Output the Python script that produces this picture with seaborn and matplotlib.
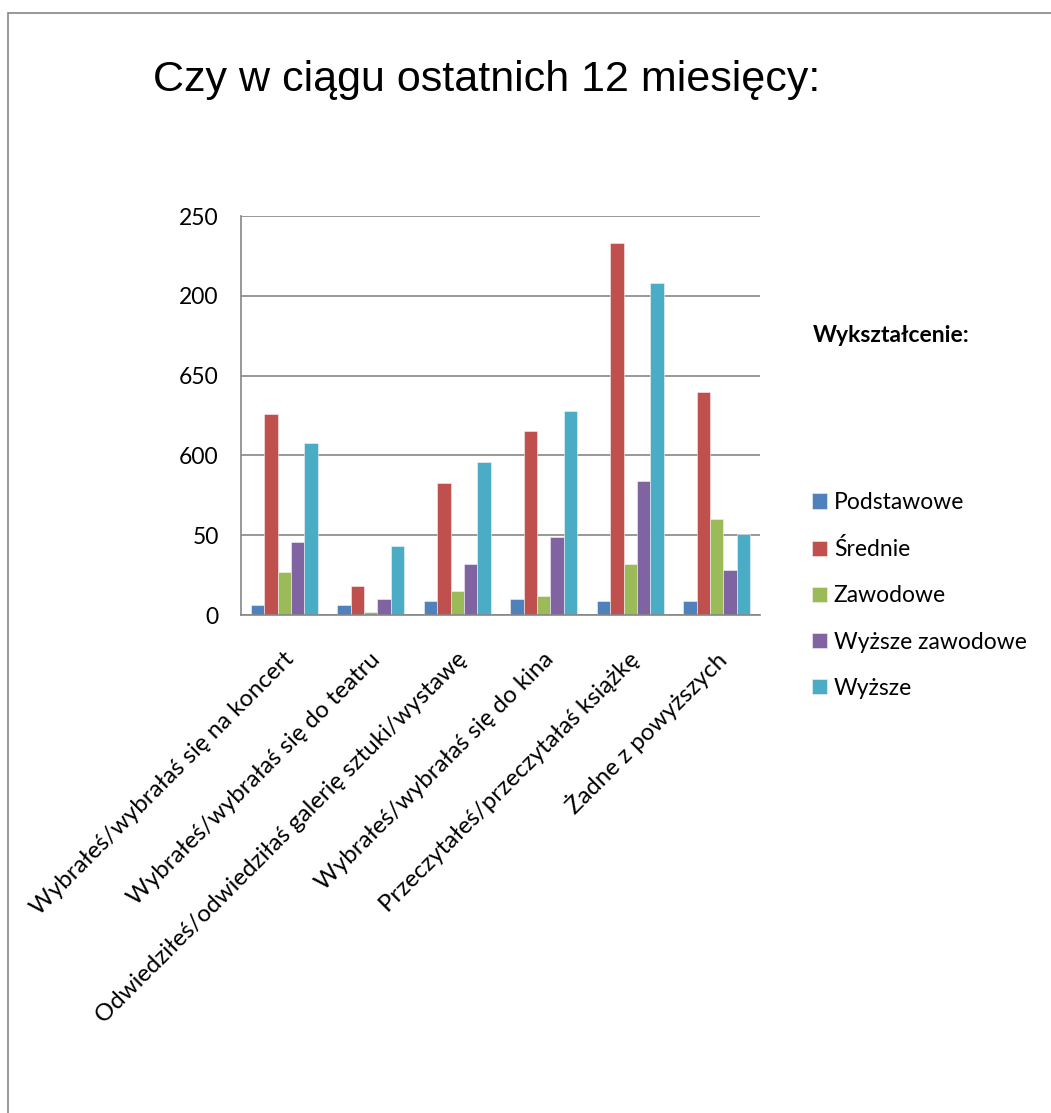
import numpy as np
import pandas as pd
import matplotlib
matplotlib.use('Agg')
import matplotlib.pyplot as plt
import matplotlib.transforms as mtrans
from matplotlib.patches import Rectangle
import seaborn as sns

# dane
kategorie = [
    'Wybrałeś/wybrałaś się na koncert',
    'Wybrałeś/wybrałaś się do teatru',
    'Odwiedziłeś/odwiedziłaś galerię sztuki/wystawę',
    'Wybrałeś/wybrałaś się do kina',
    'Przeczytałeś/przeczytałaś książkę',
    'Żadne z powyższych',
]
wyksztalcenie = ['Podstawowe', 'Średnie', 'Zawodowe', 'Wyższe zawodowe', 'Wyższe']
podstawowe = [6, 6, 9, 10, 9, 9]
srednie = [126, 18, 83, 115, 233, 140]
zawodowe = [27, 2, 15, 12, 32, 60]
wyzsze_zawodowe = [46, 10, 32, 49, 84, 28]
wyzsze = [108, 43, 96, 128, 208, 51]
y_ticks = [0, 50, 100, 150, 200, 250]
y_tick_labels = ['0', '50', '600', '650', '200', '250']
kolory = ['#4F81BD', '#C0504D', '#9BBB59', '#8064A2', '#4BACC6']

df = pd.DataFrame({
    'kategoria': kategorie * 5,
    'grupa': np.repeat(wyksztalcenie, len(kategorie)),
    'wartosc': podstawowe + srednie + zawodowe + wyzsze_zawodowe + wyzsze,
})

sns.set_style('white')
plt.rcParams['font.family'] = ['Lato', 'DejaVu Sans']
plt.rcParams['text.color'] = 'black'
plt.rcParams['xtick.labelcolor'] = 'black'
plt.rcParams['ytick.labelcolor'] = 'black'

fig = plt.figure(figsize=(10.51, 11.13), dpi=100)
ax = fig.add_axes([0.2293, 0.4474, 0.4938, 0.3585])

sns.barplot(data=df, x='kategoria', y='wartosc', hue='grupa', hue_order=wyksztalcenie,
            palette=kolory, saturation=1, width=0.77, edgecolor='#f4f4f4',
            linewidth=0.4, ax=ax)

szary = '#868686'
ax.set_xlim(-0.5, 5.5)
ax.set_ylim(0, 250)
ax.set_yticks(y_ticks)
ax.set_yticklabels(y_tick_labels, fontsize=16.5)
ax.yaxis.grid(True, color=szary, lw=1.2)
ax.set_axisbelow(True)
for s in ['top', 'right']:
    ax.spines[s].set_visible(False)
for s in ['left', 'bottom']:
    ax.spines[s].set_color(szary)
    ax.spines[s].set_linewidth(1.2)
ax.tick_params(axis='y', length=6, width=1.2, color=szary, pad=10)
ax.set_xticks(np.arange(-0.5, 6, 1), minor=True)
ax.tick_params(axis='x', which='minor', length=8, width=1.2, color=szary)
ax.tick_params(axis='x', which='major', length=0)
ax.set_xticklabels(kategorie, rotation=45, ha='right', va='center',
                   rotation_mode='anchor', fontsize=17.3)
przesun = mtrans.ScaledTranslation(0.06, -0.36, fig.dpi_scale_trans)
for lab in ax.get_xticklabels():
    lab.set_transform(lab.get_transform() + przesun)
ax.set_xlabel('')
ax.set_ylabel('')

handles, labels = ax.get_legend_handles_labels()
ax.legend_.remove()
fig.legend(handles, labels, loc='center left', bbox_to_anchor=(0.7726, 0.465),
           frameon=False, fontsize=16.5, handlelength=0.65, handleheight=0.65,
           handletextpad=0.3, labelspacing=1.1, borderpad=0, borderaxespad=0)
fig.text(813 / 1051, 1 - 335 / 1113, 'Wykształcenie:', fontweight='bold',
         fontsize=16.5, ha='left', va='center')

fig.text(0.463, 0.928, 'Czy w ciągu ostatnich 12 miesięcy:', fontsize=31,
         family=['Liberation Sans', 'DejaVu Sans'], ha='center', va='center')

# ramka wykresu
fig.add_artist(Rectangle((8 / 1051, -0.1), 1.2, 1 - 13 / 1113 + 0.1,
                         transform=fig.transFigure, fill=False,
                         edgecolor=szary, lw=1.2))

fig.savefig('out.png', dpi=100)
